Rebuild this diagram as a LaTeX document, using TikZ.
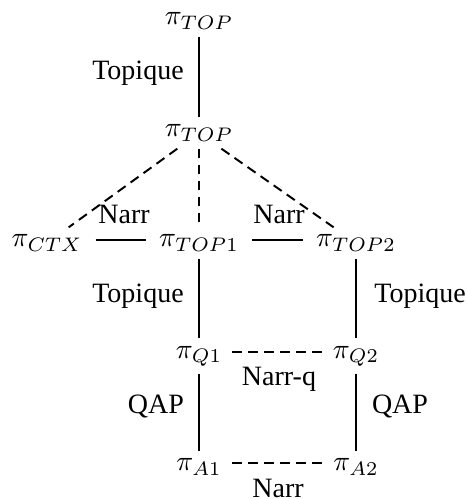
\documentclass[tikz,border=0pt]{standalone}
\usepackage{fontspec}
\setmainfont{Liberation Serif}
\begin{document}
\begin{tikzpicture}[x=0.35714pt,y=-0.35714pt,
  pnode/.style={inner sep=2.5pt,font=\fontsize{10}{12}\selectfont},
  lab/.style={inner sep=0pt,font=\fontsize{10}{12}\selectfont},
  edge/.style={line width=0.7pt},
  dedge/.style={line width=0.7pt,dash pattern=on 3.5pt off 2.2pt}]
\useasboundingbox (0,0) rectangle (467,499);
\node[pnode] (t0) at (199,21) {$\pi_{TOP}$};
\node[pnode] (t) at (199,133) {$\pi_{TOP}$};
\node[pnode] (ctx) at (47,243) {$\pi_{CTX}$};
\node[pnode] (t1) at (199,243) {$\pi_{TOP1}$};
\node[pnode] (t2) at (356,243) {$\pi_{TOP2}$};
\node[pnode] (q1) at (199,356) {$\pi_{Q1}$};
\node[pnode] (q2) at (356,356) {$\pi_{Q2}$};
\node[pnode] (a1) at (199,467) {$\pi_{A1}$};
\node[pnode] (a2) at (356,467) {$\pi_{A2}$};

\draw[edge] (t0) -- (t);
\draw[dedge] (t) -- (ctx);
\draw[dedge] (t) -- (t1);
\draw[dedge] (t) -- (t2);
\draw[edge,shorten <=2pt,shorten >=2pt] ([yshift=1pt]ctx.east) -- ([yshift=1pt]t1.west);
\draw[edge,shorten <=2pt,shorten >=2pt] ([yshift=1pt]t1.east) -- ([yshift=1pt]t2.west);
\draw[edge] (t1) -- (q1);
\draw[edge] (t2) -- (q2);
\draw[dedge,shorten <=1pt,shorten >=1pt] ([yshift=1.5pt]q1.east) -- ([yshift=1.5pt]q2.west);
\draw[edge] (q1) -- (a1);
\draw[edge] (q2) -- (a2);
\draw[dedge,shorten <=1pt,shorten >=1pt] ([yshift=1.5pt]a1.east) -- ([yshift=1.5pt]a2.west);

\node[lab] (l1) at (138,73) {Topique};
\node[lab] (l2) at (124,214) {Narr};
\node[lab] (l3) at (279,214) {Narr};
\node[lab] (l4) at (138,296) {Topique};
\node[lab] (l5) at (420,296) {Topique};
\node[lab] (l6) at (279,379) {Narr-q};
\node[lab] (l7) at (156,406) {QAP};
\node[lab] (l8) at (400,406) {QAP};
\node[lab] (l9) at (278,488) {Narr};
\end{tikzpicture}
\end{document}
